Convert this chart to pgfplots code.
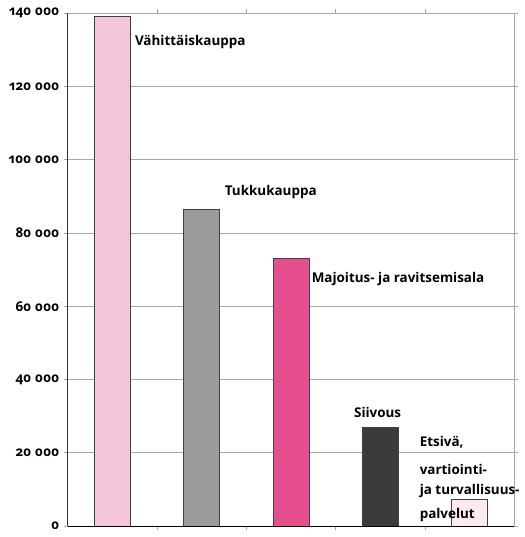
\documentclass[border=0pt]{standalone}
\usepackage{fontspec}
\setmainfont{Open Sans}[Numbers=OldStyle]
\usepackage{pgfplots}
\pgfplotsset{compat=1.18}

\definecolor{cVah}{HTML}{F4C5DB}
\definecolor{cTuk}{HTML}{9B9B9B}
\definecolor{cMaj}{HTML}{E54F8F}
\definecolor{cSii}{HTML}{3B3B3D}
\definecolor{cEts}{HTML}{FCE9F1}
\definecolor{gridc}{HTML}{A8A8A8}

\begin{document}
\begin{tikzpicture}[font=\bfseries\fontsize{13.5}{15}\selectfont]
\begin{axis}[
    name=ax,
    width=447bp, height=514bp,
    scale only axis,
    xmin=-0.5, xmax=4.5,
    ymin=0, ymax=140000,
    ytick={0,20000,40000,60000,80000,100000,120000,140000},
    yticklabels={0,20 000,40 000,60 000,80 000,100 000,120 000,140 000},
    yticklabel style={xshift=-1bp},
    xtick={0.5,1.5,2.5,3.5},
    xticklabels={},
    tick align=outside,
    major tick length=4pt,
    tick style={gridc, line width=0.8pt},
    ymajorgrids,
    grid style={gridc, line width=0.8pt},
    axis line style={gridc, line width=0.8pt},
    scaled y ticks=false,
    ybar, bar width=36bp,
    bar shift=0pt,
    clip=false,
]
\addplot[fill=cVah, draw=black!75, line width=0.8pt] coordinates {(0,139000)};
\addplot[fill=cTuk, draw=black!75, line width=0.8pt] coordinates {(1,86500)};
\addplot[fill=cMaj, draw=black!75, line width=0.8pt] coordinates {(2,73000)};
\addplot[fill=cSii, draw=black!75, line width=0.8pt] coordinates {(3,27000)};
\addplot[fill=cEts, draw=black!75, line width=0.8pt] coordinates {(4,7200)};

\draw[black!80, line width=1pt] (rel axis cs:0,0) -- (rel axis cs:0,1);
\draw[black, line width=1.2pt] (rel axis cs:0,0) -- (rel axis cs:1,0);

\node[anchor=west, inner sep=0pt] at (axis cs:0.25,132100) {Vähittäiskauppa};
\node[anchor=west, inner sep=0pt] at (axis cs:1.256,91250) {Tukkukauppa};
\node[anchor=west, inner sep=0pt] at (axis cs:2.23,67300) {Majoitus- ja ravitsemisala};
\node[anchor=center, inner sep=0pt] at (axis cs:2.97,31050) {Siivous};
\node[anchor=west, inner sep=0pt] at (axis cs:3.44,22900) {Etsivä,};
\node[anchor=west, inner sep=0pt] at (axis cs:3.44,15500) {vartiointi-};
\node[anchor=west, inner sep=0pt] at (axis cs:3.44,9500) {ja turvallisuus-};
\node[anchor=west, inner sep=0pt] at (axis cs:3.44,3000) {palvelut};
\end{axis}
\path[use as bounding box] ([xshift=-68bp,yshift=-10bp]ax.south west) rectangle ([xshift=10bp,yshift=13bp]ax.north east);
\end{tikzpicture}
\end{document}
